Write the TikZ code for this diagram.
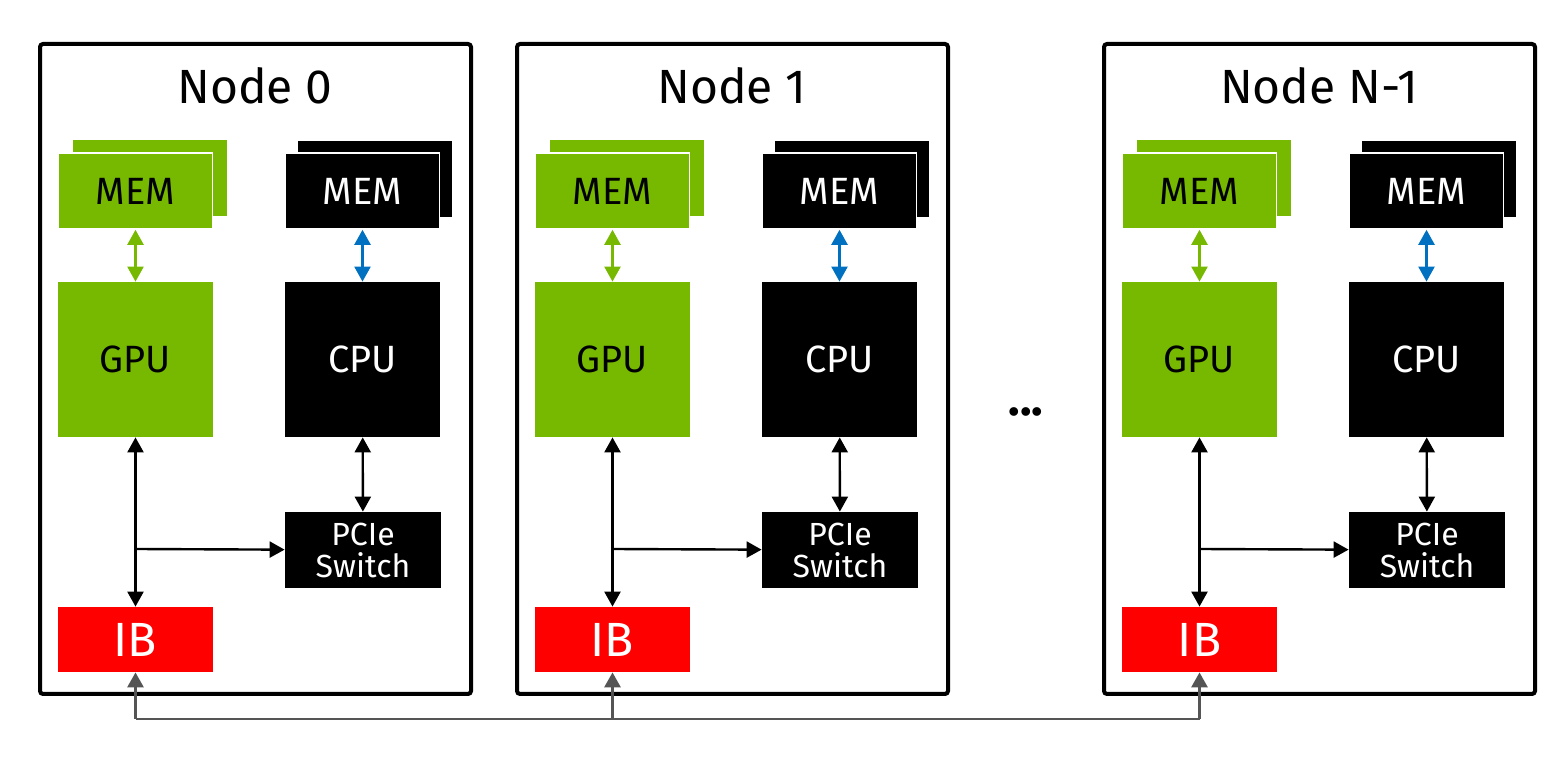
\documentclass[tikz,border=0pt]{standalone}
\usepackage{fontspec}
\setmainfont{Fira Sans}
\usetikzlibrary{arrows.meta}
\definecolor{nvgreen}{HTML}{76B900}
\definecolor{memblue}{HTML}{0070C0}
\definecolor{ibred}{HTML}{FF0000}
\definecolor{busgray}{HTML}{555555}

\begin{document}
\begin{tikzpicture}[x=0.5pt, y=-0.5pt]
            \tikzset{hostbox/.style={draw, line width=2pt, rounded corners=1.5pt, minimum width=215.5pt, minimum height=325pt, inner sep=0pt},
                     title/.style={font=\fontsize{24}{28}\selectfont},
                     unit/.style={minimum width=77.5pt, minimum height=77.5pt, inner sep=0pt, font=\fontsize{19}{21}\selectfont},
                     memcard/.style={minimum width=77pt, minimum height=38pt, inner sep=0pt, font=\fontsize{19}{21}\selectfont},
                     greencard/.style={memcard, fill=nvgreen, draw=white, line width=0.8pt},
                     blackcard/.style={memcard, fill=black, draw=white, line width=0.8pt, text=white},
                     pciebox/.style={fill=black, text=white, minimum width=78pt, minimum height=38pt, inner sep=0pt, align=center, font=\fontsize{16}{19}\selectfont},
                     ibbox/.style={fill=ibred, text=white, minimum width=77.5pt, minimum height=32.5pt, inner sep=0pt, font=\fontsize{24}{26}\selectfont},
                     tri/.style={{Triangle[length=7.5pt,width=8pt]}-{Triangle[length=7.5pt,width=8pt]}, line width=1.2pt},
                     bus/.style={draw=busgray, line width=1.4pt}}
            \useasboundingbox (0,0) rectangle (1564,758);
            % one host per column
            \foreach \i/\dx/\lbl in {0/0/0, 1/477/1, 2/1064/N-1} {
                \node[hostbox] (host\i) at (\dx+255.5,369) {};
                \node[title] (title\i) at (\dx+255,86) {Node \lbl};
                % memory cards, back and front
                \node[memcard, fill=nvgreen] (gmemb\i) at (\dx+149.5,178.5) {};
                \node[greencard] (gmem\i) at (\dx+135.5,191) {MEM};
                \node[memcard, fill=black] (cmemb\i) at (\dx+375,179) {};
                \node[blackcard] (cmem\i) at (\dx+362.5,191) {MEM};
                \node[unit, fill=nvgreen] (gpu\i) at (\dx+135.5,359.5) {GPU};
                \node[unit, fill=black, text=white] (cpu\i) at (\dx+362.5,359.5) {CPU};
                \node[pciebox] (pcie\i) at (\dx+363,550) {PCIe\\[-3pt]Switch};
                \node[ibbox] (ib\i) at (\dx+135.5,639.5) {IB};
                \coordinate (br\i) at (\dx+135.5,549);
                \coordinate (bus\i) at (\dx+135.5,719);
                % links
                \draw[tri, draw=nvgreen, fill=nvgreen] (gmem\i) -- (gpu\i);
                \draw[tri, draw=memblue, fill=memblue] (cmem\i) -- (cpu\i);
                \draw[tri] (gpu\i) -- (ib\i);
                \draw[tri] (cpu\i) -- (pcie\i);
                \draw[-{Triangle[length=7.5pt,width=8pt]}, line width=1.2pt] (br\i) -- (pcie\i);
                \draw[bus, -{Triangle[length=7.5pt,width=8pt]}] (bus\i) -- (ib\i);
            }
            \draw[bus] (bus0) -- (bus2);
            \node[font=\fontsize{24}{26}\selectfont\bfseries] (dots) at (1026,412) {...};
\end{tikzpicture}
\end{document}
